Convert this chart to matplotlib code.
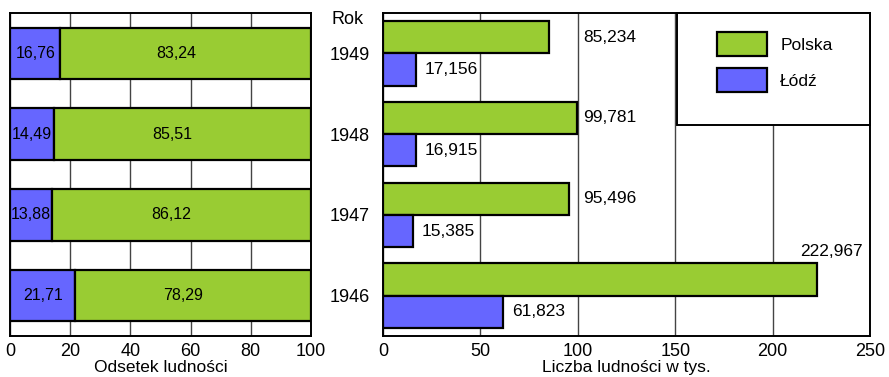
import numpy as np
import matplotlib.pyplot as plt
from matplotlib.patches import Rectangle, Patch

plt.rcParams['font.family'] = ['Liberation Sans', 'DejaVu Sans']

# dane
lata = ['1949', '1948', '1947', '1946']
proc_lodz = [16.76, 14.49, 13.88, 21.71]
proc_polska = [83.24, 85.51, 86.12, 78.29]
liczba_polska = [85.234, 99.781, 95.496, 222.967]
liczba_lodz = [17.156, 16.915, 15.385, 61.823]

ZIELONY = '#99CC33'
NIEBIESKI = '#6666FF'
SIATKA = '#444444'

fig = plt.figure(figsize=(8.89, 3.77), dpi=100)
ax1 = fig.add_axes([10 / 889, 1 - 336 / 377, 301 / 889, 323 / 377])
ax2 = fig.add_axes([383 / 889, 1 - 336 / 377, 487 / 889, 323 / 377])

y = np.arange(len(lata))

# lewy wykres: odsetek ludności (skumulowany)
ax1.barh(y, proc_lodz, height=0.64, color=NIEBIESKI, edgecolor='black', linewidth=1.6, zorder=3)
ax1.barh(y, proc_polska, left=proc_lodz, height=0.64, color=ZIELONY, edgecolor='black', linewidth=1.6, zorder=3)
for i in range(len(lata)):
    ax1.text(proc_lodz[i] / 2, y[i], f'{proc_lodz[i]:.2f}'.replace('.', ','),
             ha='center', va='center', fontsize=11.5, zorder=4)
    ax1.text(proc_lodz[i] + proc_polska[i] / 2 - 3.3, y[i], f'{proc_polska[i]:.2f}'.replace('.', ','),
             ha='center', va='center', fontsize=11.5, zorder=4)
ax1.set_xlim(0, 100)
ax1.set_ylim(len(lata) - 0.5, -0.5)
ax1.set_xticks([0, 20, 40, 60, 80, 100])
ax1.set_yticks([])
ax1.set_xlabel('Odsetek ludności', fontsize=12.5, labelpad=0)

# prawy wykres: liczba ludności
ax2.barh(y - 0.2, liczba_polska, height=0.4, color=ZIELONY, edgecolor='black', linewidth=1.6, zorder=3)
ax2.barh(y + 0.2, liczba_lodz, height=0.4, color=NIEBIESKI, edgecolor='black', linewidth=1.6, zorder=3)
for i in range(len(lata)):
    tekst = f'{liczba_polska[i]:.3f}'.replace('.', ',')
    if liczba_polska[i] > 200:
        ax2.annotate(tekst, (liczba_polska[i], y[i] - 0.4), xytext=(10, 3), textcoords='offset points',
                     ha='center', va='bottom', fontsize=12.5, zorder=4)
    else:
        ax2.annotate(tekst, (max(liczba_polska[i], 100), y[i] - 0.2), xytext=(4, 0), textcoords='offset points',
                     ha='left', va='center', fontsize=12.5, zorder=4)
    ax2.annotate(f'{liczba_lodz[i]:.3f}'.replace('.', ','), (liczba_lodz[i], y[i] + 0.2),
                 xytext=(6, 0), textcoords='offset points', ha='left', va='center', fontsize=12.5, zorder=4)
ax2.set_xlim(0, 250)
ax2.set_ylim(len(lata) - 0.5, -0.5)
ax2.set_xticks([0, 50, 100, 150, 200, 250])
ax2.set_yticks(y)
ax2.set_yticklabels(lata)
ax2.set_xlabel('Liczba ludności w tys.', fontsize=12.5, labelpad=0)

for ax in (ax1, ax2):
    ax.grid(axis='x', color=SIATKA, linewidth=1.0, zorder=1)
    ax.tick_params(length=0, labelsize=13)
    ax.tick_params(axis='x', pad=5)
    ax.tick_params(axis='y', pad=9.5)
    for s in ax.spines.values():
        s.set_linewidth(1.4)
        s.set_zorder(5)

fig.text(348 / 889, 1 - 20 / 377, 'Rok', ha='center', va='center', fontsize=13)

# legenda w ramce
ax2.add_patch(Rectangle(((677 - 383) / 487, (336 - 125) / 323), (870 - 677) / 487, 112 / 323,
                        transform=ax2.transAxes, facecolor='white', edgecolor='black',
                        linewidth=1.4, zorder=6, clip_on=False))
uchwyty = [Patch(facecolor=ZIELONY, edgecolor='black', linewidth=1.6, label='Polska'),
           Patch(facecolor=NIEBIESKI, edgecolor='black', linewidth=1.6, label='Łódź')]
leg = ax2.legend(handles=uchwyty, loc='upper left', bbox_to_anchor=((717 - 383) / 487, (336 - 32) / 323),
                 frameon=False, borderpad=0, borderaxespad=0, fontsize=12.5,
                 handlelength=2.9, handleheight=1.75, handletextpad=0.75, labelspacing=0.7)
leg.set_zorder(7)

fig.savefig('out.png', dpi=100)
